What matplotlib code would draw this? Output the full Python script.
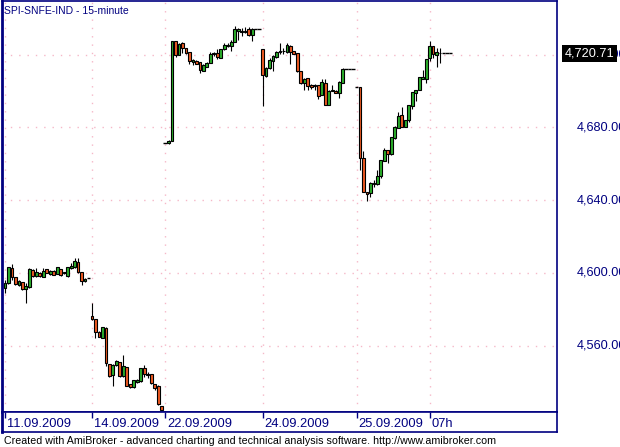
import matplotlib
matplotlib.use("Agg")
import matplotlib.pyplot as plt
from matplotlib.patches import Rectangle
from matplotlib.transforms import blended_transform_factory

plt.rcParams['font.family'] = ['Liberation Sans', 'DejaVu Sans']

# 15-minute bars, SPI-SNFE-IND (open, high, low, close)
opens = [4591.5, 4594.3, 4602.5, 4597.6, 4593.4, 4594.8, 4591.0, 4592.5, 4601.6, 4598.3,
         4600.1, 4598.0, 4602.0, 4599.4, 4601.2, 4599.4, 4602.0, 4599.8, 4598.3, 4602.5,
         4603.4, 4605.8, 4600.3, 4595.8, 4597.0,
         4576.4, 4574.7, 4567.7, 4564.5, 4569.9, 4549.8, 4543.9, 4549.4, 4550.9, 4543.6,
         4548.1, 4538.8, 4537.5, 4540.3, 4540.6, 4547.6, 4544.7, 4544.3, 4538.8, 4538.1,
         4526.7,
         4671.6, 4671.2, 4672.7, 4727.5, 4719.8, 4726.2, 4723.4, 4721.2, 4716.1, 4716.6,
         4715.7, 4711.2, 4713.4, 4715.6, 4720.1, 4721.0, 4718.3, 4722.9, 4724.7, 4724.9,
         4727.1, 4733.1, 4732.6, 4733.1, 4733.9, 4730.8, 4733.9, 4733.9,
         4723.1, 4708.0, 4712.6, 4716.3, 4718.5, 4721.2, 4721.8, 4721.4, 4724.5, 4721.8,
         4720.9, 4710.8, 4704.4, 4707.1, 4703.5, 4703.1, 4703.1, 4698.0, 4704.4, 4692.5,
         4700.2, 4700.2, 4698.9, 4704.4, 4712.1, 4712.1, 4712.1,
         4702.4, 4702.0, 4663.0, 4644.3, 4643.7, 4648.9, 4648.7, 4653.3, 4661.5, 4667.6,
         4665.2, 4674.0, 4679.8, 4686.8, 4680.4, 4684.0, 4691.7, 4698.7, 4700.5, 4706.8,
         4706.8, 4717.9, 4724.7, 4719.8, 4720.7, 4720.71, 4720.71, 4720.71]
highs = [4596.1, 4603.4, 4604.9, 4598.0, 4596.2, 4595.2, 4594.3, 4602.5, 4602.0, 4602.5,
         4600.5, 4602.5, 4602.4, 4601.6, 4601.6, 4603.4, 4602.3, 4600.6, 4603.4, 4605.3,
         4608.0, 4608.0, 4600.5, 4597.4, 4597.0,
         4583.3, 4574.9, 4567.9, 4570.5, 4570.1, 4550.0, 4549.8, 4552.2, 4551.3, 4554.9,
         4548.5, 4539.0, 4541.3, 4541.5, 4547.9, 4549.4, 4545.8, 4544.5, 4539.0, 4538.3,
         4526.9,
         4671.6, 4672.9, 4727.5, 4727.6, 4726.2, 4727.1, 4723.6, 4721.4, 4717.4, 4717.0,
         4716.0, 4714.6, 4715.9, 4721.6, 4721.6, 4722.9, 4723.2, 4726.2, 4726.5, 4728.0,
         4735.7, 4734.4, 4734.4, 4735.3, 4735.3, 4734.4, 4733.9, 4733.9,
         4723.3, 4713.0, 4718.1, 4719.6, 4721.8, 4726.4, 4723.6, 4726.4, 4725.0, 4722.0,
         4721.0, 4711.0, 4707.0, 4707.3, 4703.8, 4703.8, 4703.3, 4706.8, 4706.8, 4700.5,
         4703.5, 4700.5, 4705.2, 4712.4, 4712.1, 4712.1, 4712.1,
         4702.4, 4702.0, 4667.0, 4644.5, 4650.1, 4651.1, 4656.6, 4662.3, 4668.5, 4667.8,
         4674.7, 4680.6, 4688.6, 4691.0, 4684.2, 4692.5, 4699.6, 4700.7, 4707.7, 4711.5,
         4717.6, 4727.6, 4724.9, 4723.4, 4723.4, 4720.71, 4720.71, 4720.71]
lows = [4588.8, 4594.0, 4596.1, 4593.4, 4593.0, 4590.6, 4583.3, 4591.9, 4598.0, 4598.0,
        4597.8, 4597.6, 4599.8, 4599.0, 4598.7, 4599.2, 4598.4, 4599.4, 4598.0, 4602.3,
        4602.5, 4600.1, 4593.4, 4595.2, 4597.0,
        4574.3, 4564.5, 4564.8, 4564.0, 4549.1, 4543.0, 4538.1, 4549.0, 4543.0, 4543.0,
        4537.8, 4537.0, 4537.0, 4539.8, 4540.3, 4543.0, 4542.1, 4539.0, 4535.7, 4527.5,
        4524.7,
        4671.6, 4671.0, 4672.5, 4718.5, 4719.5, 4720.7, 4720.3, 4714.6, 4714.3, 4714.6,
        4709.7, 4710.9, 4713.0, 4715.2, 4719.2, 4717.4, 4718.0, 4722.6, 4724.0, 4722.1,
        4726.9, 4728.0, 4730.2, 4732.0, 4730.2, 4727.6, 4733.9, 4733.9,
        4691.5, 4707.5, 4712.3, 4711.1, 4718.2, 4720.3, 4720.3, 4721.0, 4714.8, 4720.2,
        4710.5, 4704.0, 4700.7, 4700.7, 4701.2, 4700.7, 4695.8, 4697.7, 4692.2, 4692.2,
        4700.0, 4698.6, 4696.1, 4704.2, 4712.1, 4712.1, 4712.1,
        4702.4, 4656.6, 4644.5, 4639.7, 4641.9, 4647.4, 4648.5, 4652.0, 4661.3, 4660.6,
        4665.0, 4673.8, 4679.6, 4680.2, 4680.0, 4683.1, 4689.9, 4694.7, 4700.3, 4706.6,
        4704.2, 4716.6, 4717.9, 4713.3, 4715.5, 4720.71, 4720.71, 4720.71]
closes = [4594.6, 4603.1, 4597.6, 4593.7, 4595.8, 4591.0, 4592.8, 4602.0, 4598.3, 4600.7,
          4598.3, 4601.2, 4600.1, 4601.2, 4598.9, 4603.1, 4598.7, 4600.3, 4603.1, 4603.8,
          4606.6, 4600.7, 4595.8, 4596.9, 4597.0,
          4574.7, 4567.7, 4565.0, 4570.1, 4550.3, 4543.6, 4549.4, 4551.6, 4543.4, 4548.9,
          4538.1, 4537.5, 4541.0, 4541.0, 4547.6, 4544.3, 4543.9, 4539.3, 4537.0, 4527.8,
          4524.9,
          4671.6, 4672.7, 4727.5, 4719.8, 4725.8, 4723.4, 4720.7, 4716.6, 4717.0, 4715.0,
          4711.5, 4714.3, 4715.6, 4720.3, 4720.7, 4718.9, 4722.9, 4725.3, 4725.3, 4726.9,
          4733.9, 4733.9, 4733.1, 4732.6, 4730.6, 4733.9, 4733.9, 4733.9,
          4708.6, 4712.6, 4716.8, 4719.0, 4721.4, 4721.8, 4722.1, 4725.4, 4721.4, 4720.5,
          4710.8, 4704.4, 4706.6, 4702.5, 4702.4, 4702.5, 4697.0, 4704.9, 4692.5, 4700.2,
          4700.7, 4698.9, 4704.9, 4712.1, 4712.1, 4712.1, 4712.1,
          4702.4, 4663.0, 4644.7, 4643.2, 4649.2, 4649.6, 4653.3, 4662.1, 4667.6, 4665.2,
          4674.5, 4680.4, 4686.2, 4680.4, 4684.0, 4692.3, 4699.4, 4700.5, 4707.5, 4707.5,
          4717.4, 4724.7, 4720.1, 4721.6, 4721.0, 4720.71, 4720.71, 4720.71]

date_ticks = [0, 25, 46, 74, 101, 122]
date_labels = ["11.09.2009", "14.09.2009", "22.09.2009", "24.09.2009", "25.09.2009", "07h"]
price_levels = [4560, 4600, 4640, 4680, 4720]
last_price = closes[-1]

navy = "#000080"
up_col = "#2bb02b"
down_col = "#f05a22"
grid_col = "#f5b8c8"

W, H = 620, 447


def px_rect(x0, y0, x1, y1):
    return [x0 / W, 1 - y1 / H, (x1 - x0) / W, (y1 - y0) / H]


fig = plt.figure(figsize=(W / 100, H / 100), dpi=100)
ax = fig.add_axes(px_rect(2, 1, 557, 412))
dax = fig.add_axes(px_rect(2, 412, 557, 432), sharex=ax)

# grid
for p in price_levels:
    ax.axhline(p, color=grid_col, lw=1, ls=(0, (1, 5)), zorder=0)
for t in date_ticks:
    ax.axvline(t, color=grid_col, lw=1, ls=(0, (1, 5)), zorder=0)

# candles
bw = 0.8
for i, (o, h, l, c) in enumerate(zip(opens, highs, lows, closes)):
    if h == l:
        ax.hlines(c, i - 0.5, i + 0.5, color="black", lw=1, zorder=3)
        continue
    ax.vlines(i, l, h, color="black", lw=0.8, zorder=2)
    col = up_col if c >= o else down_col
    ax.add_patch(Rectangle((i - bw / 2, min(o, c)), bw, max(abs(c - o), 0.3),
                           facecolor=col, edgecolor="black", lw=0.8, zorder=3))

ax.set_xlim(-0.86, 158.6)
ax.set_ylim(4523.6, 4749.4)
ax.set_xticks([])
ax.set_yticks([])
for s in ax.spines.values():
    s.set_color(navy)
    s.set_linewidth(1.2)
ax.spines["left"].set_linewidth(2)

ax.text(0.004, 0.988, "SPI-SNFE-IND - 15-minute", transform=ax.transAxes,
        ha="left", va="top", fontsize=7.5, color=navy)

# price labels on the right
tr = blended_transform_factory(ax.transAxes, ax.transData)
for p in price_levels:
    ax.text(1.036, p, f"{p:,.2f}", transform=tr, ha="left", va="center",
            fontsize=9.2, color=navy, clip_on=False)
ax.text(1.0135, last_price, f"{last_price:,.2f}", transform=tr, ha="left", va="center",
        fontsize=9.2, color="white", clip_on=False, zorder=10,
        bbox=dict(boxstyle="square,pad=0.2", fc="black", ec="none"))

# date axis band
dax.set_ylim(0, 1)
dax.set_xticks([])
dax.set_yticks([])
for s in dax.spines.values():
    s.set_color(navy)
    s.set_linewidth(1.2)
dax.spines["left"].set_linewidth(2)
for t, lab in zip(date_ticks, date_labels):
    dax.vlines(t, 0.7, 1.0, color=navy, lw=1)
    dax.text(t + 0.6, 0.42, lab, ha="left", va="center", fontsize=9.3, color=navy)

fig.text(4 / W, 1 - 441 / H, "Created with AmiBroker - advanced charting and technical "
         "analysis software. http://www.amibroker.com", ha="left", va="center",
         fontsize=7.7, color="black")

fig.savefig("out.png", dpi=100, facecolor="white")
